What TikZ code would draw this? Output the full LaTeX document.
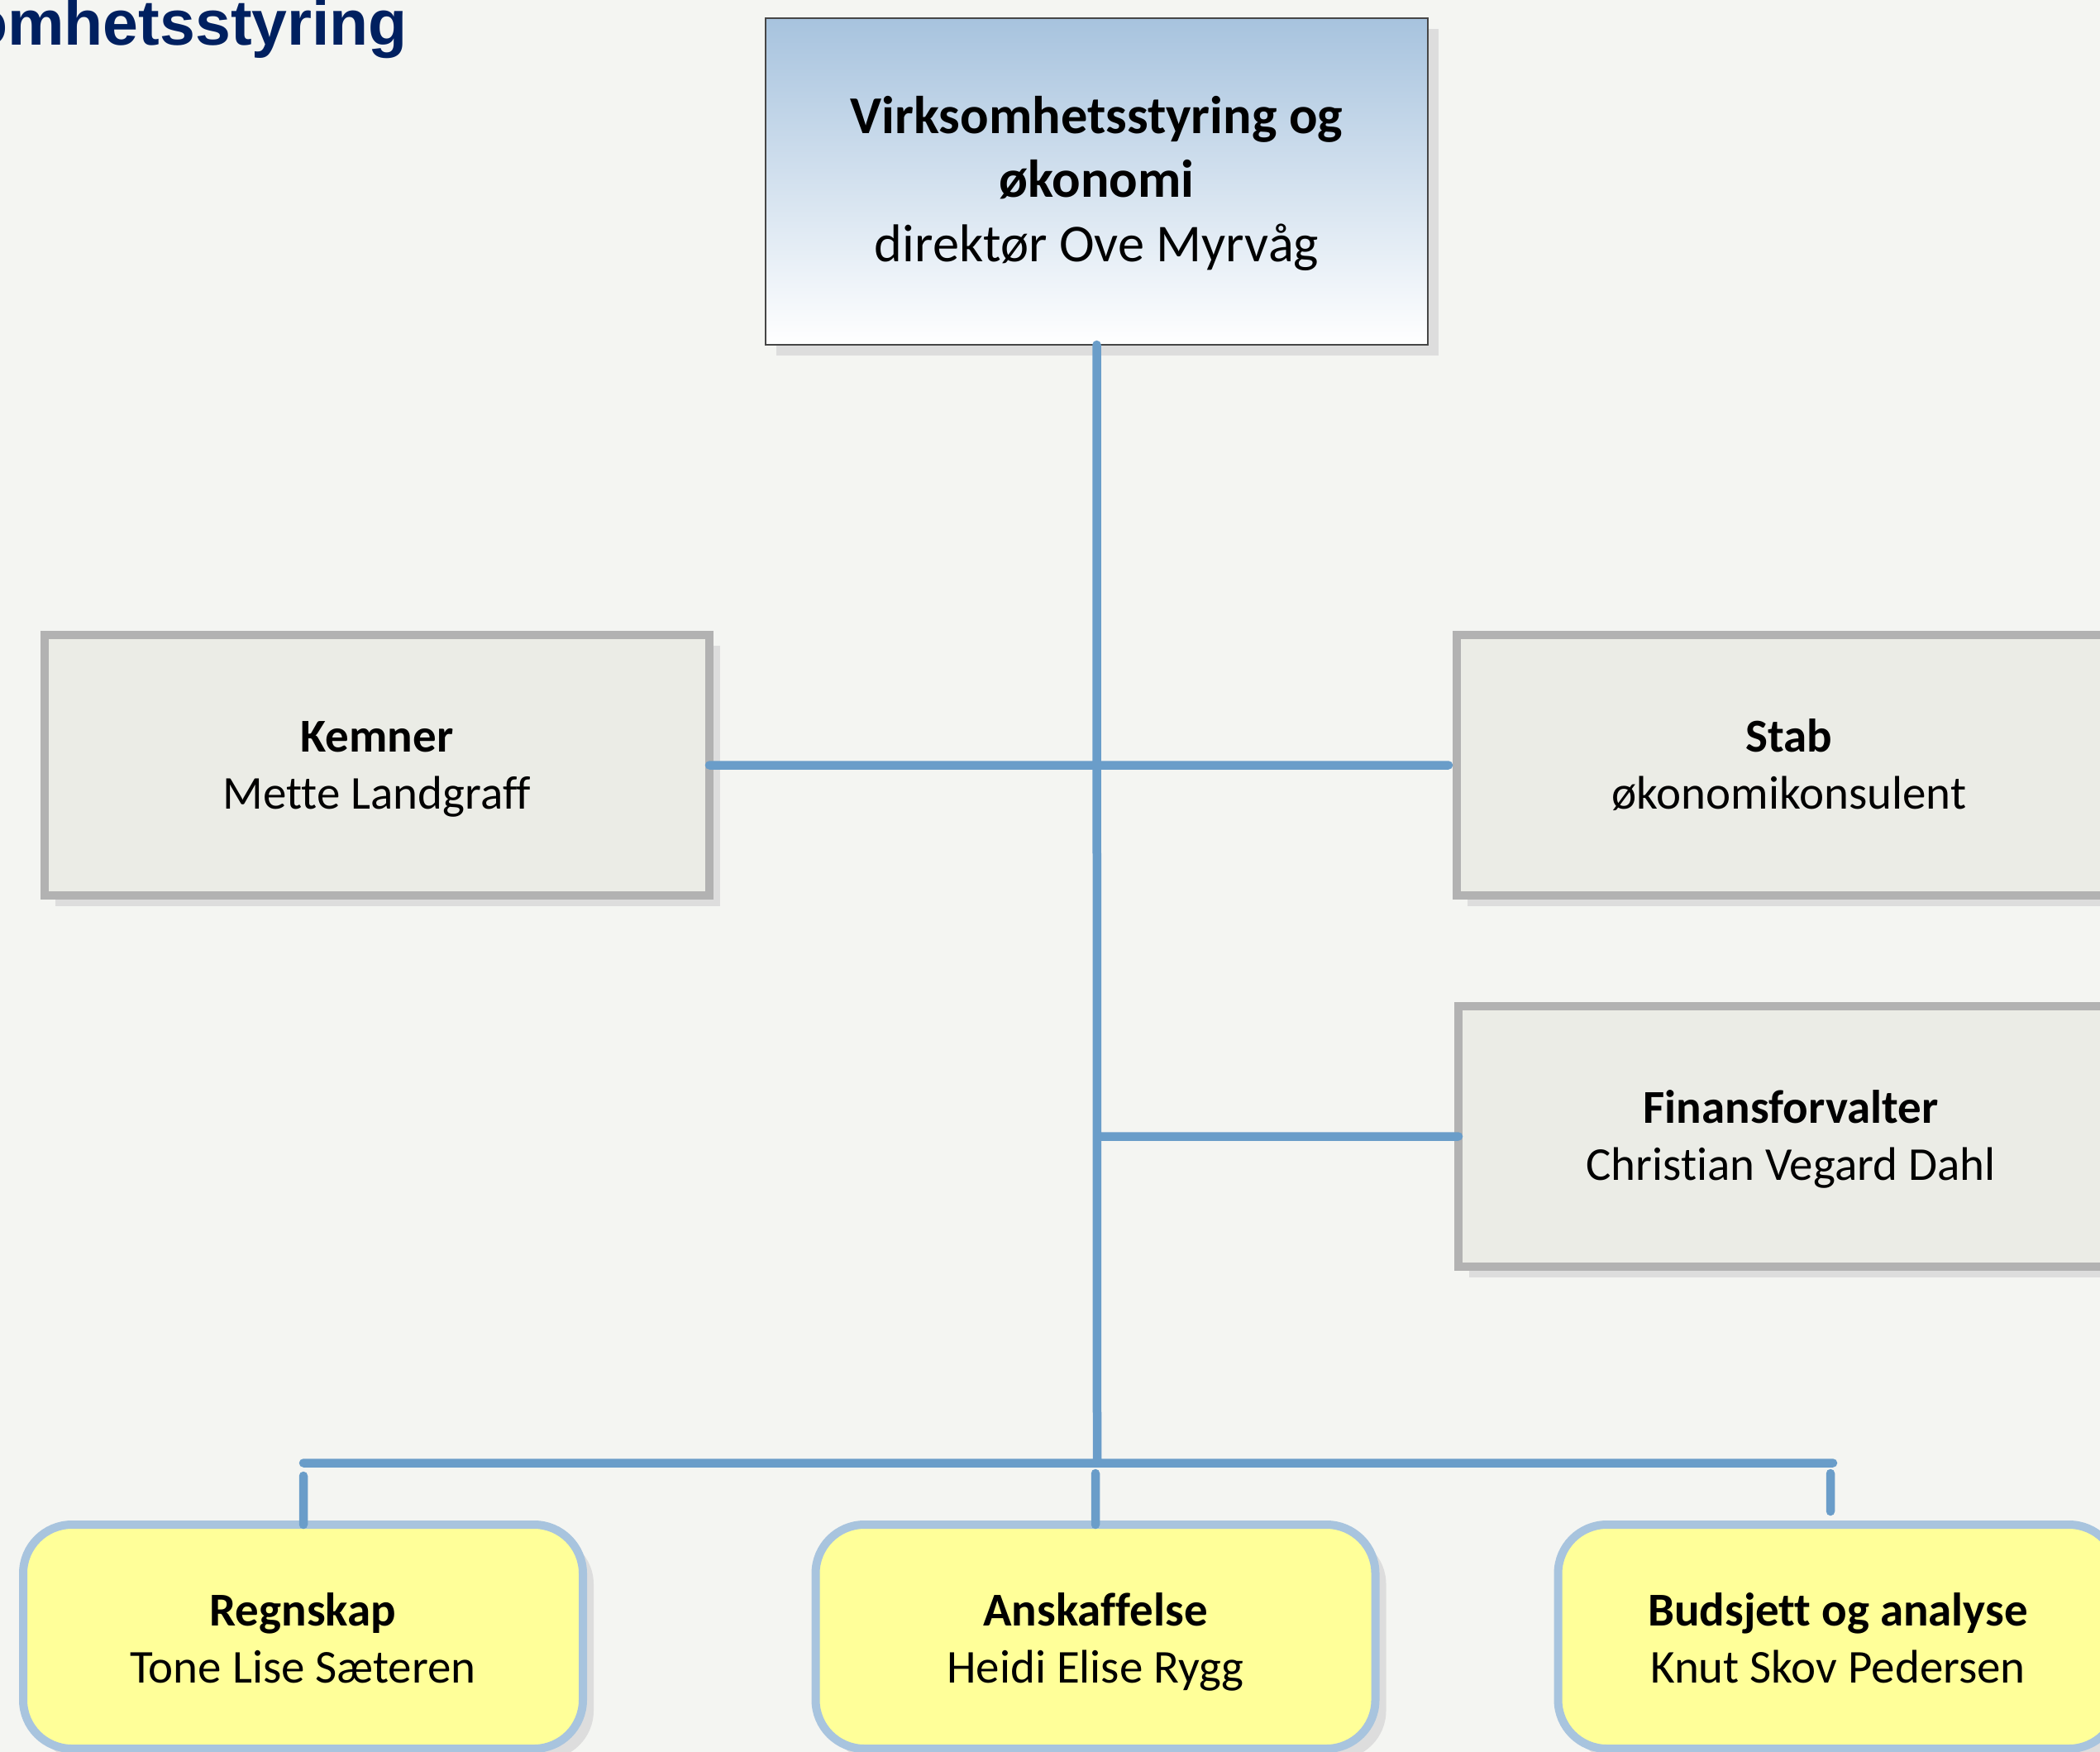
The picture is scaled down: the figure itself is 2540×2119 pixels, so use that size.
\documentclass[tikz,border=0pt]{standalone}
\usepackage{fontspec}
\setmainfont[Ligatures=NoCommon]{Carlito}
\newfontfamily\titlefont{Liberation Sans}
\usepackage{tikz}
\usetikzlibrary{positioning,shadows}
\usepackage{xcolor}
\definecolor{pagebg}{RGB}{244,245,242}
\definecolor{titlenavy}{RGB}{0,32,96}
\definecolor{linkblue}{RGB}{106,157,201}
\definecolor{dirblue}{RGB}{167,195,222}
\definecolor{dirborder}{RGB}{70,70,70}
\definecolor{unitfill}{RGB}{235,236,230}
\definecolor{unitborder}{RGB}{178,178,178}
\definecolor{secfill}{RGB}{255,255,153}
\definecolor{secborder}{RGB}{168,196,222}
\definecolor{shadowgray}{RGB}{221,221,221}
\newlength{\pix}\setlength{\pix}{0.01cm}
% struts that fix where the text lines sit in a box
\newcommand{\upst}[1]{\rule{0pt}{#1\pix}}
\newcommand{\dnst}{\rule[-20\pix]{0pt}{20\pix}}

\begin{document}
\begin{tikzpicture}[x=0.01cm,y=-0.01cm,line cap=round]
\tikzstyle{every node}=[inner sep=0pt,outer sep=0pt,align=center]
\tikzstyle{link}=[draw=linkblue,line width=10.5\pix]
\tikzstyle{chief}=[draw=dirborder,line width=1.5\pix,top color=dirblue,bottom color=white,
  minimum width=801\pix,minimum height=395\pix,font=\fontsize{18.3pt}{21.9pt}\selectfont,
  drop shadow={shadow xshift=13\pix,shadow yshift=-13\pix,fill=shadowgray,opacity=1}]
\tikzstyle{unit}=[draw=unitborder,fill=unitfill,line width=10\pix,
  minimum width=804\pix,minimum height=315\pix,font=\fontsize{16.2pt}{19.6pt}\selectfont,
  drop shadow={shadow xshift=13\pix,shadow yshift=-13\pix,fill=shadowgray,opacity=1}]
\tikzstyle{section}=[draw=secborder,fill=secfill,line width=10\pix,rounded corners=59\pix,
  minimum width=677\pix,minimum height=271\pix,font=\fontsize{16.2pt}{19.6pt}\selectfont,
  drop shadow={shadow xshift=13\pix,shadow yshift=-13\pix,fill=shadowgray,opacity=1}]

\useasboundingbox (0,0) rectangle (2540,2119);
\clip (0,0) rectangle (2540,2119);
\fill[pagebg] (0,0) rectangle (2540,2119);

\node[anchor=base east,text=titlenavy,font=\titlefont\bfseries\fontsize{21.9pt}{26pt}\selectfont]
  (title) at (493,55) {omhetsstyring};

\node[chief] (dir) at (1326.5,219.5) {\upst{59}\textbf{Virksomhetsstyring og}\\\textbf{økonomi}\\direktør Ove Myrvåg\dnst};

\node[unit] (kemner) at (456,925.5) {\upst{57}\textbf{Kemner}\\Mette Landgraff\dnst};
\node[unit] (stab) [right=904\pix of kemner] {\upst{57}\textbf{Stab}\\økonomikonsulent\dnst};
\node[unit] (finans) at (2166,1374.5) {\upst{57}\textbf{Finansforvalter}\\Christian Vegard Dahl\dnst};

\node[section] (regnskap) at (366.5,1979.5) {\upst{63}\textbf{Regnskap}\\Tone Lise Sæteren\dnst};
\node[section] (anskaff) at (1325,1979.5) {\upst{63}\textbf{Anskaffelse}\\Heidi Elise Rygg\dnst};
\node[section] (budsjett) at (2223,1979.5) {\upst{63}\textbf{Budsjett og analyse}\\Knut Skov Pedersen\dnst};

\coordinate (junction) at (1327,1769.5);
\coordinate (barL) at (367,1769.5);
\coordinate (barR) at (2217,1769.5);
\coordinate (dropL) at (367,1785);
\coordinate (dropM) at (1325,1782);
\coordinate (dropR) at (2214,1782);
\coordinate (dropRend) at (2214,1828);

\path[link]
  (dir.south) -- (junction)
  (kemner.east) -- ([xshift=-10\pix]stab.west)
  (junction |- finans.west) -- (finans.west)
  (barL) -- (barR)
  (dropL) -- (dropL |- regnskap.north)
  (dropM) -- (dropM |- anskaff.north)
  (dropR) -- (dropRend);
\end{tikzpicture}
\end{document}
